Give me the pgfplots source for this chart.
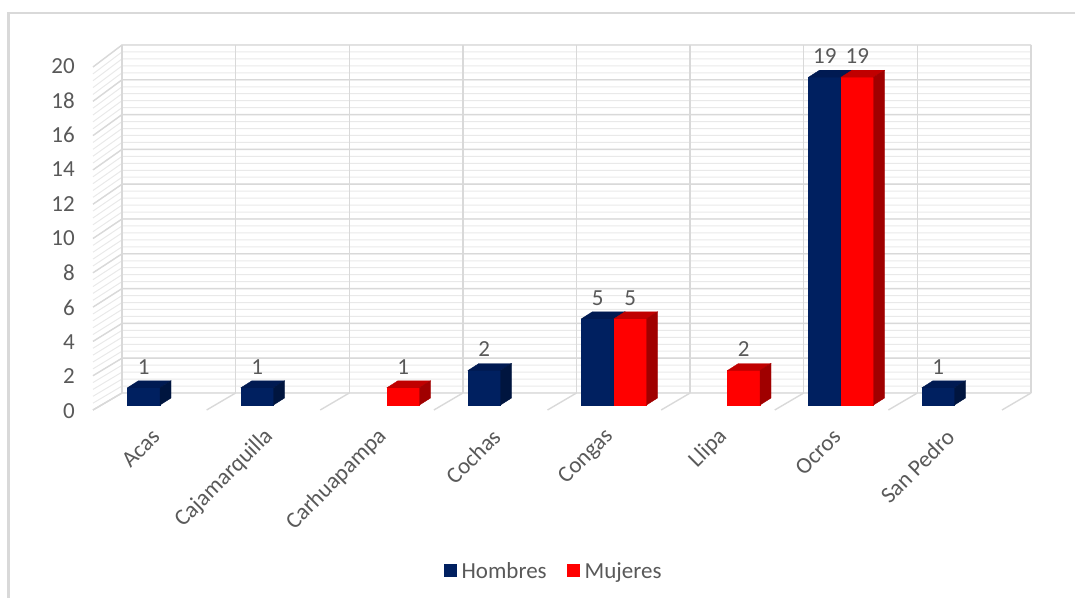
\documentclass[border=0pt]{standalone}
\usepackage{pgfplots}
\pgfplotsset{compat=1.18}
\usepackage{pgfplotstable}
\usepackage{fontspec}
\setmainfont{Carlito}

\definecolor{navy}{HTML}{002060}
\definecolor{navytop}{HTML}{001A52}
\definecolor{navyside}{HTML}{00153F}
\definecolor{redfront}{HTML}{FF0000}
\definecolor{redtop}{HTML}{C00000}
\definecolor{redside}{HTML}{A00000}
\definecolor{txt}{HTML}{595959}
\definecolor{majorc}{HTML}{D9D9D9}
\definecolor{minorc}{HTML}{E9E9E9}
\newcommand{\lbl}{\fontsize{23}{27}\selectfont}

% x = category index, h = count (empty categories left out)
\pgfplotstableread{
x h
0 1
1 1
3 2
4 5
6 19
7 1
}\hombres
\pgfplotstableread{
x h
2 1
4 5
5 2
6 19
}\mujeres

\pgfdeclareplotmark{nomark}{}
% front, top and side faces of the 3D bars plus the value label:
% left edge, right edge (pt, from the category centre), front, top and side colour
\pgfplotsset{
  faces/.style n args={5}{
    forget plot, only marks, mark=nomark, scatter,
    visualization depends on={y \as \hv},
    scatter/@pre marker code/.code={%
      \pgfscope
      \fill[#3] (#1pt,0pt) rectangle (#2pt,-17.25pt*\hv);
      \fill[#4] (#1pt,0pt) -- (#2pt,0pt) -- (#2pt+11pt,7pt) -- (#1pt+11pt,7pt) -- cycle;
      \fill[#5] (#2pt,0pt) -- (#2pt+11pt,7pt) -- (#2pt+11pt,7pt-17.25pt*\hv) -- (#2pt,-17.25pt*\hv) -- cycle;
      \node[font=\lbl, text=txt, anchor=center] at (#1pt/2+#2pt/2,21pt)
        {\pgfmathprintnumber[assume math mode=true]{\hv}};
    },
    scatter/@post marker code/.code={\endpgfscope},
  },
}

\begin{document}
\begin{tikzpicture}
\begin{scope}[x=1pt,y=1pt]
\path[use as bounding box] (0,0) rectangle (1075,597);
\draw[majorc, line width=2.5pt] (8.5,-5) -- (8.5,584) -- (1080,584);
% back wall and side wall grid
\foreach \i in {0,...,50}
  \draw[minorc, line width=1pt] (93,187+6.86*\i) -- (122,204+6.96*\i) -- (1031,204+6.96*\i);
\foreach \v in {0,...,10}
  \draw[majorc, line width=1.4pt] (93,187+34.3*\v) -- (122,204+34.8*\v) -- (1031,204+34.8*\v);
\foreach \k in {0,...,8} {
  \draw[majorc, line width=1.4pt] (122+113.625*\k,204) -- (122+113.625*\k,552);
  \draw[majorc, line width=1.4pt] (122+113.625*\k,204) -- (93+113.625*\k,187);
}
\end{scope}

\begin{axis}[
  at={(103.25pt,192pt)}, anchor=south west,
  scale only axis, width=908pt, height=345pt,
  xmin=-0.5, xmax=7.5, ymin=0, ymax=20,
  clip=false,
  axis line style={draw=none},
  major tick length=0pt,
  xtick={0,...,7},
  xticklabels={Acas,Cajamarquilla,Carhuapampa,Cochas,Congas,Llipa,Ocros,San Pedro},
  ytick={0,2,...,20},
  tick label style={font=\lbl, text=txt},
  /pgf/number format/assume math mode=true,
  yticklabel style={anchor=east, xshift=-25pt, yshift=-6pt},
  xticklabel style={yshift=-28pt, xshift=-4pt, anchor=east, inner sep=0pt, rotate=45},
  legend columns=2,
  legend style={at={(0.496,-0.481)}, anchor=center, draw=none, fill=none,
    font=\lbl, text=txt,
    /tikz/every odd column/.append style={column sep=3pt},
    /tikz/every even column/.append style={column sep=18pt}},
]
\addplot[ybar, bar width=32.5pt, bar shift=-16.25pt, fill=navy, draw=none,
  legend image code/.code={\fill[navy] (0pt,-6.5pt) rectangle (13pt,6.5pt);}]
  table[x=x, y=h] {\hombres};
\addlegendentry{Hombres}
\addplot[ybar, bar width=32.5pt, bar shift=16.25pt, fill=redfront, draw=none,
  legend image code/.code={\fill[redfront] (0pt,-6.5pt) rectangle (13pt,6.5pt);}]
  table[x=x, y=h] {\mujeres};
\addlegendentry{Mujeres}
\addplot[faces={-32.5}{0}{navy}{navytop}{navyside}] table[x=x, y=h] {\hombres};
\addplot[faces={0}{32.5}{redfront}{redtop}{redside}] table[x=x, y=h] {\mujeres};
\end{axis}
\end{tikzpicture}
\end{document}
